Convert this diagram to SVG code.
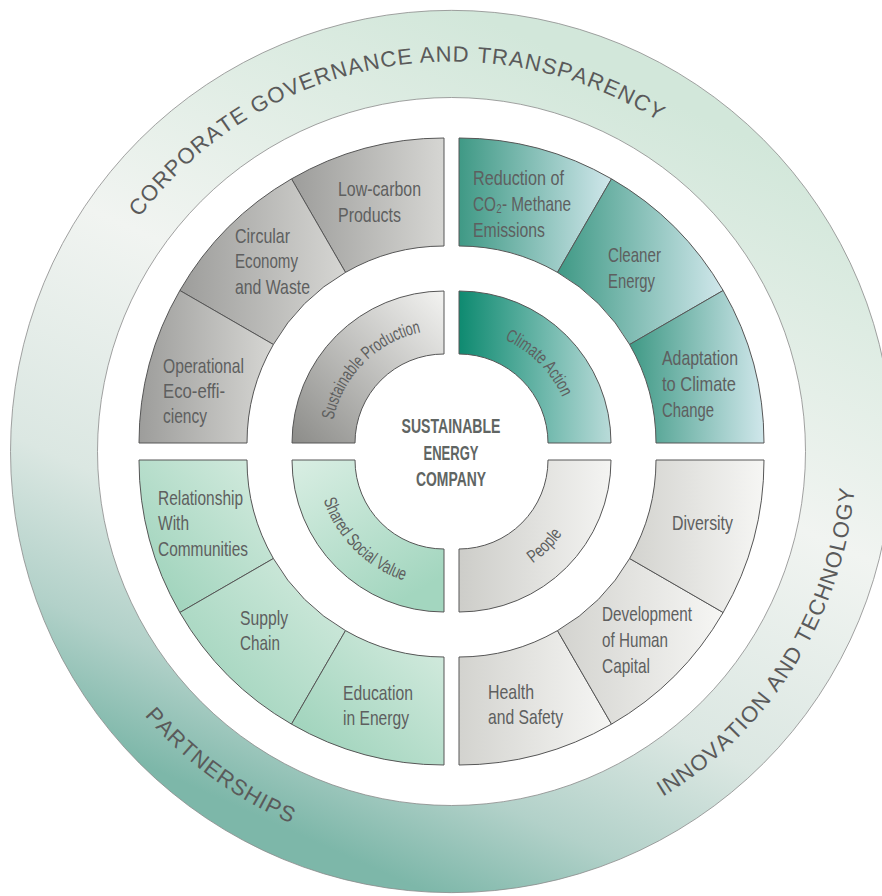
<svg xmlns="http://www.w3.org/2000/svg" width="882" height="896" viewBox="0 0 882 896">
<style>
.seg{stroke:#565656;stroke-width:1;stroke-linejoin:round}
.lbl{font-family:"Liberation Sans","DejaVu Sans",Arial,sans-serif;font-size:21px;fill:#5e5f5f}
.arc{font-family:"Liberation Sans",Arial,sans-serif;font-size:18px;fill:#5e5f5f}
.ring{font-family:"Liberation Sans",Arial,sans-serif;font-size:22px;fill:#5a5a5a;letter-spacing:1.1px;font-kerning:none}
.ctr{font-family:"Liberation Sans",Arial,sans-serif;font-size:19.5px;font-weight:bold;fill:#606563}
</style>
<defs>
<linearGradient id="gRing" gradientUnits="userSpaceOnUse" x1="600" y1="70" x2="263.2" y2="818.5">
<stop offset="0" stop-color="#d2e7da"/>
<stop offset="0.41" stop-color="#f1f4f1"/>
<stop offset="0.7" stop-color="#dbe7e2"/>
<stop offset="0.867" stop-color="#b2d1c9"/>
<stop offset="1" stop-color="#7db7a9"/>
</linearGradient>
<linearGradient id="gTLo" x1="0" y1="0" x2="1" y2="0"><stop offset="0" stop-color="#9d9d9b"/><stop offset="1" stop-color="#d6d6d3"/></linearGradient>
<linearGradient id="gTLi" x1="0" y1="1" x2="1" y2="0"><stop offset="0" stop-color="#8c8c89"/><stop offset="1" stop-color="#f3f3f1"/></linearGradient>
<linearGradient id="gTRo" x1="0" y1="0" x2="1" y2="0"><stop offset="0" stop-color="#3f9985"/><stop offset="1" stop-color="#d0e7eb"/></linearGradient>
<linearGradient id="gTRi" x1="0" y1="0" x2="1" y2="0"><stop offset="0" stop-color="#0e8a70"/><stop offset="1" stop-color="#b9dbd9"/></linearGradient>
<linearGradient id="gBLo" x1="1" y1="0" x2="0" y2="1"><stop offset="0" stop-color="#d6ece0"/><stop offset="1" stop-color="#98d0b7"/></linearGradient>
<linearGradient id="gBLi" x1="0" y1="0" x2="0.6" y2="1"><stop offset="0" stop-color="#d9eee3"/><stop offset="1" stop-color="#a3d6bf"/></linearGradient>
<linearGradient id="gBRo" x1="0" y1="0" x2="1" y2="0"><stop offset="0" stop-color="#d3d3cf"/><stop offset="1" stop-color="#f6f6f4"/></linearGradient>
<linearGradient id="gBRi" x1="0" y1="0" x2="1" y2="0"><stop offset="0" stop-color="#cdcdc9"/><stop offset="1" stop-color="#f4f4f2"/></linearGradient>
<path id="pTop" d="M 61.5 451.5 A 390 390 0 0 1 841.5 451.5"/>
<path id="pInno" d="M 249 802.2 A 405 405 0 0 0 802.2 249"/>
<path id="pPart" d="M 100.8 249 A 405 405 0 0 0 654 802.2"/>
<path id="pSP" d="M 331 443 A 113 113 0 0 1 444 330"/>
<path id="pCA" d="M 459 330 A 113 113 0 0 1 572 443"/>
<path id="pSSV" d="M 317 460 A 127 127 0 0 0 444 587"/>
<path id="pPeo" d="M 459 587 A 127 127 0 0 0 586 460"/>
</defs>

<g id="outer-ring">
<path d="M 10.5 451.5 A 441 441 0 1 1 892.5 451.5 A 441 441 0 1 1 10.5 451.5 Z M 97.5 451.5 A 354 354 0 1 0 805.5 451.5 A 354 354 0 1 0 97.5 451.5 Z" fill="url(#gRing)" fill-rule="evenodd" stroke="#8a8a8a" stroke-width="0.8"/>
</g>
<g id="corporate-governance">
<text class="ring"><textPath href="#pTop" startOffset="250.7">CORPORATE</textPath></text>
<text class="ring"><textPath href="#pTop" startOffset="407.2">GOVERNANCE</textPath></text>
<text class="ring"><textPath href="#pTop" startOffset="580.8">AND</textPath></text>
<text class="ring"><textPath href="#pTop" startOffset="637.8">TRANSPARENCY</textPath></text>
</g>
<g id="innovation-technology">
<text class="ring"><textPath href="#pInno" startOffset="434.2">INNOVATION</textPath></text>
<text class="ring"><textPath href="#pInno" startOffset="589.3">AND</textPath></text>
<text class="ring"><textPath href="#pInno" startOffset="646.3">TECHNOLOGY</textPath></text>
</g>
<g id="partnerships"><text class="ring"><textPath href="#pPart" startOffset="591.6" text-anchor="middle">PARTNERSHIPS</textPath></text></g>

<!-- Top-left: Sustainable Production -->
<g id="low-carbon-products">
<path class="seg" fill="url(#gTLo)" d="M 444 138 A 305 305 0 0 0 291.5 178.86 L 345.5 272.39 A 197 197 0 0 1 444 246 Z"/>
<text class="lbl" x="338" y="196" textLength="83" lengthAdjust="spacingAndGlyphs">Low-carbon</text>
<text class="lbl" x="338" y="222" textLength="63" lengthAdjust="spacingAndGlyphs">Products</text>
</g>
<g id="circular-economy">
<path class="seg" fill="url(#gTLo)" d="M 291.5 178.86 A 305 305 0 0 0 179.86 290.5 L 273.39 344.5 A 197 197 0 0 1 345.5 272.39 Z"/>
<text class="lbl" x="235" y="243" textLength="55" lengthAdjust="spacingAndGlyphs">Circular</text>
<text class="lbl" x="235" y="268" textLength="63" lengthAdjust="spacingAndGlyphs">Economy</text>
<text class="lbl" x="235" y="294" textLength="75" lengthAdjust="spacingAndGlyphs">and Waste</text>
</g>
<g id="operational-eco-efficiency">
<path class="seg" fill="url(#gTLo)" d="M 179.86 290.5 A 305 305 0 0 0 139 443 L 247 443 A 197 197 0 0 1 273.39 344.5 Z"/>
<text class="lbl" x="163" y="373" textLength="81" lengthAdjust="spacingAndGlyphs">Operational</text>
<text class="lbl" x="163" y="398" textLength="62" lengthAdjust="spacingAndGlyphs">Eco-effi-</text>
<text class="lbl" x="163" y="423" textLength="44" lengthAdjust="spacingAndGlyphs">ciency</text>
</g>
<g id="sustainable-production">
<path class="seg" fill="url(#gTLi)" d="M 444 291 A 152 152 0 0 0 292 443 L 355 443 A 89 89 0 0 1 444 354 Z"/>
<text class="arc"><textPath href="#pSP" startOffset="50%" text-anchor="middle" textLength="131" lengthAdjust="spacingAndGlyphs">Sustainable Production</textPath></text>
</g>

<!-- Top-right: Climate Action -->
<g id="reduction-co2-methane">
<path class="seg" fill="url(#gTRo)" d="M 459 138 A 305 305 0 0 1 611.5 178.86 L 557.5 272.39 A 197 197 0 0 0 459 246 Z"/>
<text class="lbl" x="473" y="185" textLength="91" lengthAdjust="spacingAndGlyphs">Reduction of</text>
<text class="lbl" x="473" y="211" textLength="98" lengthAdjust="spacingAndGlyphs">CO₂- Methane</text>
<text class="lbl" x="473" y="237" textLength="72" lengthAdjust="spacingAndGlyphs">Emissions</text>
</g>
<g id="cleaner-energy">
<path class="seg" fill="url(#gTRo)" d="M 611.5 178.86 A 305 305 0 0 1 723.14 290.5 L 629.61 344.5 A 197 197 0 0 0 557.5 272.39 Z"/>
<text class="lbl" x="608" y="262" textLength="53" lengthAdjust="spacingAndGlyphs">Cleaner</text>
<text class="lbl" x="608" y="288" textLength="47" lengthAdjust="spacingAndGlyphs">Energy</text>
</g>
<g id="adaptation-climate-change">
<path class="seg" fill="url(#gTRo)" d="M 723.14 290.5 A 305 305 0 0 1 764 443 L 656 443 A 197 197 0 0 0 629.61 344.5 Z"/>
<text class="lbl" x="662" y="365" textLength="76" lengthAdjust="spacingAndGlyphs">Adaptation</text>
<text class="lbl" x="662" y="391" textLength="74" lengthAdjust="spacingAndGlyphs">to Climate</text>
<text class="lbl" x="662" y="417" textLength="52" lengthAdjust="spacingAndGlyphs">Change</text>
</g>
<g id="climate-action">
<path class="seg" fill="url(#gTRi)" d="M 459 291 A 152 152 0 0 1 611 443 L 548 443 A 89 89 0 0 0 459 354 Z"/>
<text class="arc"><textPath href="#pCA" startOffset="50%" text-anchor="middle" textLength="83" lengthAdjust="spacingAndGlyphs">Climate Action</textPath></text>
</g>

<!-- Bottom-left: Shared Social Value -->
<g id="relationship-communities">
<path class="seg" fill="url(#gBLo)" d="M 139 460 A 305 305 0 0 0 179.86 612.5 L 273.39 558.5 A 197 197 0 0 1 247 460 Z"/>
<text class="lbl" x="158" y="505" textLength="85" lengthAdjust="spacingAndGlyphs">Relationship</text>
<text class="lbl" x="158" y="530" textLength="31" lengthAdjust="spacingAndGlyphs">With</text>
<text class="lbl" x="158" y="556" textLength="90" lengthAdjust="spacingAndGlyphs">Communities</text>
</g>
<g id="supply-chain">
<path class="seg" fill="url(#gBLo)" d="M 179.86 612.5 A 305 305 0 0 0 291.5 724.14 L 345.5 630.61 A 197 197 0 0 1 273.39 558.5 Z"/>
<text class="lbl" x="240" y="625" textLength="48" lengthAdjust="spacingAndGlyphs">Supply</text>
<text class="lbl" x="240" y="650" textLength="40" lengthAdjust="spacingAndGlyphs">Chain</text>
</g>
<g id="education-energy">
<path class="seg" fill="url(#gBLo)" d="M 291.5 724.14 A 305 305 0 0 0 444 765 L 444 657 A 197 197 0 0 1 345.5 630.61 Z"/>
<text class="lbl" x="343" y="700" textLength="70" lengthAdjust="spacingAndGlyphs">Education</text>
<text class="lbl" x="343" y="725" textLength="66" lengthAdjust="spacingAndGlyphs">in Energy</text>
</g>
<g id="shared-social-value">
<path class="seg" fill="url(#gBLi)" d="M 292 460 A 152 152 0 0 0 444 612 L 444 549 A 89 89 0 0 1 355 460 Z"/>
<text class="arc"><textPath href="#pSSV" startOffset="50%" text-anchor="middle" textLength="118" lengthAdjust="spacingAndGlyphs">Shared Social Value</textPath></text>
</g>

<!-- Bottom-right: People -->
<g id="health-safety">
<path class="seg" fill="url(#gBRo)" d="M 459 765 A 305 305 0 0 0 611.5 724.14 L 557.5 630.61 A 197 197 0 0 1 459 657 Z"/>
<text class="lbl" x="488" y="699" textLength="46" lengthAdjust="spacingAndGlyphs">Health</text>
<text class="lbl" x="488" y="724" textLength="75" lengthAdjust="spacingAndGlyphs">and Safety</text>
</g>
<g id="development-human-capital">
<path class="seg" fill="url(#gBRo)" d="M 611.5 724.14 A 305 305 0 0 0 723.14 612.5 L 629.61 558.5 A 197 197 0 0 1 557.5 630.61 Z"/>
<text class="lbl" x="602" y="621" textLength="90" lengthAdjust="spacingAndGlyphs">Development</text>
<text class="lbl" x="602" y="647" textLength="66" lengthAdjust="spacingAndGlyphs">of Human</text>
<text class="lbl" x="602" y="673" textLength="48" lengthAdjust="spacingAndGlyphs">Capital</text>
</g>
<g id="diversity">
<path class="seg" fill="url(#gBRo)" d="M 723.14 612.5 A 305 305 0 0 0 764 460 L 656 460 A 197 197 0 0 1 629.61 558.5 Z"/>
<text class="lbl" x="672" y="530" textLength="61" lengthAdjust="spacingAndGlyphs">Diversity</text>
</g>
<g id="people">
<path class="seg" fill="url(#gBRi)" d="M 459 612 A 152 152 0 0 0 611 460 L 548 460 A 89 89 0 0 1 459 549 Z"/>
<text class="arc"><textPath href="#pPeo" startOffset="50%" text-anchor="middle" textLength="42" lengthAdjust="spacingAndGlyphs">People</textPath></text>
</g>

<g id="center">
<text class="ctr" x="451" y="433" text-anchor="middle" textLength="99" lengthAdjust="spacingAndGlyphs">SUSTAINABLE</text>
<text class="ctr" x="451" y="460" text-anchor="middle" textLength="55" lengthAdjust="spacingAndGlyphs">ENERGY</text>
<text class="ctr" x="451" y="486" text-anchor="middle" textLength="70" lengthAdjust="spacingAndGlyphs">COMPANY</text>
</g>
<g id="connectors"/>
</svg>
